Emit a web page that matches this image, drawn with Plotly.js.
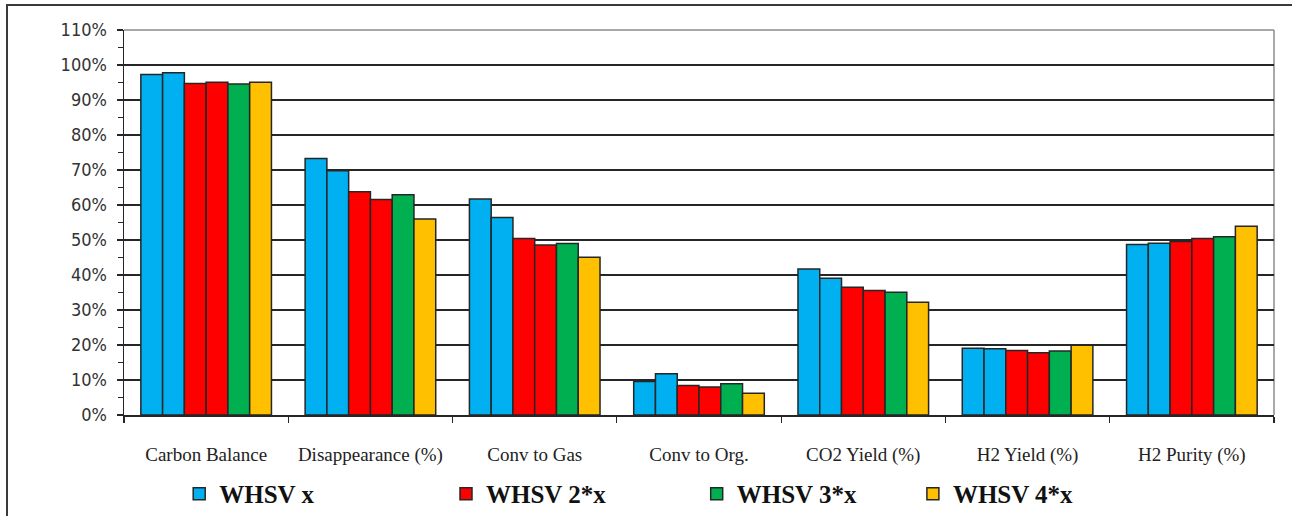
<!DOCTYPE html>
<html>
<head>
<meta charset="utf-8">
<script src="https://cdn.plot.ly/plotly-3.0.1.min.js"></script>
<style>
  html, body { margin: 0; padding: 0; background: #fff; }
  #chart { width: 1292px; height: 516px; }
</style>
</head>
<body>
<div id="chart"></div>
<script>
// Measured fractions for each outcome, one array per run
const categories = ["Carbon Balance", "Disappearance (%)", "Conv to Gas", "Conv to Org.",
                    "CO2 Yield (%)", "H2 Yield (%)", "H2 Purity (%)"];

const whsvXa  = [0.973, 0.733, 0.617, 0.096, 0.417, 0.191, 0.487];
const whsvXb  = [0.978, 0.698, 0.564, 0.118, 0.391, 0.189, 0.491];
const whsv2Xa = [0.947, 0.638, 0.504, 0.084, 0.365, 0.184, 0.496];
const whsv2Xb = [0.951, 0.616, 0.486, 0.080, 0.356, 0.178, 0.504];
const whsv3X  = [0.946, 0.629, 0.490, 0.089, 0.351, 0.183, 0.509];
const whsv4X  = [0.951, 0.560, 0.451, 0.062, 0.322, 0.199, 0.539];

const seriesNames = ["WHSV x", "WHSV x", "WHSV 2*x", "WHSV 2*x", "WHSV 3*x", "WHSV 4*x"];
const seriesColors = ["#00B0F0", "#00B0F0", "#FF0000", "#FF0000", "#00B050", "#FFC000"];
const seriesValues = [whsvXa, whsvXb, whsv2Xa, whsv2Xb, whsv3X, whsv4X];
const legendIds = ["legend", null, "legend2", null, "legend3", "legend4"];

const traces = seriesValues.map((vals, i) => ({
  type: "bar",
  name: seriesNames[i],
  x: categories,
  y: vals,
  marker: { color: seriesColors[i], line: { color: "#262626", width: 1.5 } },
  showlegend: legendIds[i] !== null,
  legend: legendIds[i] || "legend",
  hoverinfo: "x+y+name"
}));

const legendFont = { family: "Liberation Serif, Times New Roman, serif", size: 25, color: "#111", weight: "bold" };
function legendAt(x) {
  return {
    x: x, y: -0.205, xanchor: "left", yanchor: "middle",
    orientation: "h", bgcolor: "rgba(0,0,0,0)",
    font: legendFont, itemwidth: 30, tracegroupgap: 0
  };
}

const layout = {
  width: 1292,
  height: 516,
  margin: { l: 124, r: 18, t: 30, b: 101, autoexpand: false },
  paper_bgcolor: "#ffffff",
  plot_bgcolor: "#ffffff",
  barmode: "group",
  bargap: 0.205,
  bargroupgap: 0,
  showlegend: true,
  legend: legendAt(0.048),
  legend2: legendAt(0.280),
  legend3: legendAt(0.498),
  legend4: legendAt(0.686),
  xaxis: {
    type: "category",
    showline: true,
    linecolor: "#262626",
    linewidth: 1.5,
    ticks: "outside",
    tickson: "boundaries",
    ticklen: 6,
    tickwidth: 1.2,
    tickcolor: "#262626",
    showgrid: false,
    ticklabelstandoff: 22,
    tickfont: { family: "Liberation Serif, Times New Roman, serif", size: 19, color: "#222" },
    fixedrange: true
  },
  yaxis: {
    range: [0, 1.1],
    dtick: 0.1,
    tickformat: ".0%",
    showline: true,
    linecolor: "#262626",
    linewidth: 1.5,
    ticks: "outside",
    ticklen: 6,
    tickwidth: 1.5,
    tickcolor: "#262626",
    showgrid: true,
    gridcolor: "#262626",
    gridwidth: 1.6,
    zeroline: false,
    minor: { dtick: 0.05, ticks: "outside", ticklen: 5, tickwidth: 1.2, tickcolor: "#262626", showgrid: false },
    ticklabelstandoff: 6,
    tickfont: { family: "DejaVu Sans Condensed, DejaVu Sans, sans-serif", size: 18, color: "#333" },
    fixedrange: true
  },
  shapes: [
    // plot-area frame on top and right in light grey
    { type: "line", xref: "paper", yref: "paper", x0: 0, x1: 1, y0: 1, y1: 1,
      line: { color: "#8c8c8c", width: 1.5 }, layer: "between" },
    { type: "line", xref: "paper", yref: "paper", x0: 1, x1: 1, y0: 0, y1: 1,
      line: { color: "#8c8c8c", width: 1.5 }, layer: "between" },
    // outer chart border
    { type: "rect", xref: "paper", yref: "paper",
      x0: (7 - 124) / 1150, x1: 1.08, y0: -0.5, y1: (415 - 5) / 385,
      line: { color: "#3a3a3a", width: 2 }, fillcolor: "rgba(0,0,0,0)", layer: "above" }
  ]
};

Plotly.newPlot("chart", traces, layout, { displayModeBar: false, staticPlot: true });
</script>
</body>
</html>
